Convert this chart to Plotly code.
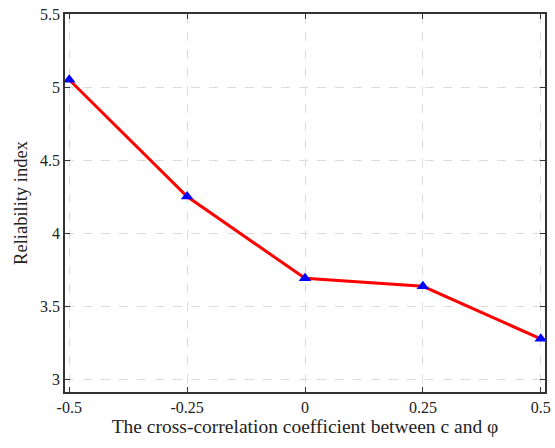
import plotly.graph_objects as go

x_vals = [-0.5, -0.25, 0, 0.25, 0.5]
y_vals = [5.05, 4.25, 3.69, 3.635, 3.275]
x_ticks = [-0.5, -0.25, 0, 0.25, 0.5]
x_tick_labels = ["-0.5", "-0.25", "0", "0.25", "0.5"]
y_ticks = [3, 3.5, 4, 4.5, 5, 5.5]
y_tick_labels = ["3", "3.5", "4", "4.5", "5", "5.5"]

fig = go.Figure()
fig.add_trace(go.Scatter(
    x=x_vals, y=y_vals, mode="lines+markers",
    line=dict(color="#ff0000", width=3),
    marker=dict(symbol="triangle-up", size=11, color="#0000ff"),
    cliponaxis=False, showlegend=False))

font_family = "Liberation Serif, DejaVu Serif, serif"
axis_common = dict(
    showline=True, linecolor="#333333", linewidth=1.5, mirror="ticks",
    ticks="inside", ticklen=5, tickcolor="#333333",
    showgrid=True, gridcolor="#dcdcdc", griddash="dash", gridwidth=1,
    zeroline=False, automargin=False, ticklabeloverflow="allow",
    tickfont=dict(family=font_family, size=16, color="#222222"),
)

fig.update_layout(
    width=555, height=448,
    margin=dict(l=65, r=10, t=14, b=56),
    paper_bgcolor="white", plot_bgcolor="white",
    font=dict(family=font_family, color="#222222"),
    xaxis=dict(range=[-0.509, 0.509], tickvals=x_ticks, ticktext=x_tick_labels,
               title=dict(text="The cross-correlation coefficient between c and φ",
                          font=dict(family=font_family, size=19.5), standoff=3),
               **axis_common),
    yaxis=dict(range=[2.911, 5.5005], tickvals=y_ticks, ticktext=y_tick_labels,
               title=dict(text="Reliability index",
                          font=dict(family=font_family, size=18.5), standoff=8),
               **axis_common),
)

fig.write_html("out.html", config={"displayModeBar": False},
               post_script="document.body.style.margin='0';")
